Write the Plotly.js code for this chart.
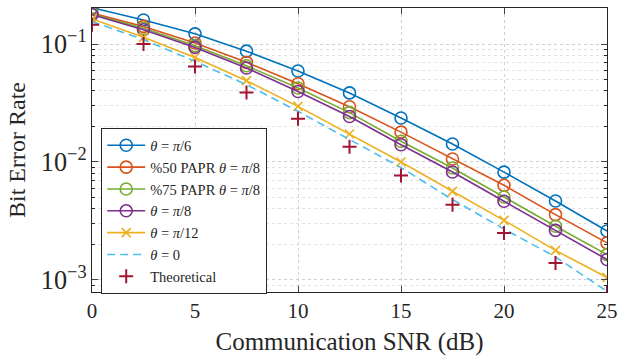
<!DOCTYPE html>
<html>
<head>
<meta charset="utf-8">
<script src="https://cdn.plot.ly/plotly-3.0.1.min.js"></script>
<style>html,body{margin:0;padding:0;background:#fff}</style>
</head>
<body>
<div id="chart" style="width:634px;height:360px"></div>
<script>
const snr = [0, 2.5, 5, 7.5, 10, 12.5, 15, 17.5, 20, 22.5, 25];
const berPi6 = [0.203, 0.16, 0.122, 0.087, 0.059, 0.0385, 0.0236, 0.0142, 0.0082, 0.00467, 0.0026];
const berPapr50 = [0.183, 0.141, 0.102, 0.0699, 0.0461, 0.0294, 0.0179, 0.0106, 0.00634, 0.00358, 0.00206];
const berPapr75 = [0.18, 0.136, 0.0968, 0.0654, 0.0424, 0.0262, 0.015, 0.00889, 0.00505, 0.00285, 0.00164];
const berPi8 = [0.177, 0.132, 0.0936, 0.0626, 0.0396, 0.0243, 0.014, 0.00822, 0.00464, 0.00263, 0.00149];
const berPi12 = [0.163, 0.114, 0.0769, 0.0489, 0.0296, 0.01726, 0.01, 0.00564, 0.0032, 0.00178, 0.00105];
const berZero = [0.155, 0.109, 0.0713, 0.0452, 0.0269, 0.01545, 0.00895, 0.0048, 0.0027, 0.00157, 0.0008];
const berTheory = [0.146, 0.1, 0.0646, 0.0389, 0.0233, 0.01345, 0.00769, 0.00434, 0.0025, 0.00139, 0.000776];

const names = [
  '<i>θ</i> = <i>π</i>/6',
  '%50 PAPR <i>θ</i> = <i>π</i>/8',
  '%75 PAPR <i>θ</i> = <i>π</i>/8',
  '<i>θ</i> = <i>π</i>/8',
  '<i>θ</i> = <i>π</i>/12',
  '<i>θ</i> = 0',
  'Theoretical'
];

function circ(y, name, color) {
  return {x: snr, y: y, name: name, type: 'scatter', mode: 'lines+markers',
    line: {color: color, width: 1.6},
    marker: {symbol: 'circle-open', size: 12, color: color, line: {width: 1.6, color: color}}};
}

const traces = [
  circ(berPi6, names[0], '#0072BD'),
  circ(berPapr50, names[1], '#D95319'),
  circ(berPapr75, names[2], '#77AC30'),
  circ(berPi8, names[3], '#7E2F8E'),
  {x: snr, y: berPi12, name: names[4], type: 'scatter', mode: 'lines+markers',
    line: {color: '#EDB120', width: 1.6},
    marker: {symbol: 'x-thin-open', size: 9, color: '#EDB120', line: {width: 1.6, color: '#EDB120'}}},
  {x: snr, y: berZero, name: names[5], type: 'scatter', mode: 'lines',
    line: {color: '#4DBEEE', width: 1.6, dash: '8px,5px'}},
  {x: snr, y: berTheory, name: names[6], type: 'scatter', mode: 'markers',
    marker: {symbol: 'cross-thin-open', size: 10, color: '#A2142F', line: {width: 2, color: '#A2142F'}}}
];

const font = "'Liberation Serif', serif";
const layout = {
  width: 634, height: 360,
  margin: {l: 92, r: 27, t: 8, b: 68},
  paper_bgcolor: '#fff', plot_bgcolor: '#fff',
  font: {family: font, color: '#262626', size: 18},
  showlegend: true,
  legend: {x: 0.0175, y: 0.577, xanchor: 'left', yanchor: 'top',
    bgcolor: '#fff', bordercolor: '#262626', borderwidth: 1.2, itemwidth: 38,
    font: {family: font, size: 14.5, color: '#262626'}, tracegroupgap: 0},
  xaxis: {range: [0, 25], tickvals: [0, 5, 10, 15, 20, 25], ticks: 'inside', ticklen: 6,
    showline: true, linecolor: '#262626', linewidth: 1.2, mirror: 'allticks',
    showgrid: true, gridcolor: '#d0d0d0', griddash: 'dot', gridwidth: 1, zeroline: false,
    tickfont: {family: font, size: 21, color: '#262626'},
    title: {text: 'Communication SNR (dB)', font: {family: font, size: 25, color: '#262626'}, standoff: 10}},
  yaxis: {type: 'log', range: [Math.log10(7.9e-4), Math.log10(0.202)], dtick: 1,
    exponentformat: 'power', ticks: 'inside', ticklen: 6,
    showline: true, linecolor: '#262626', linewidth: 1.2, mirror: 'allticks',
    showgrid: true, gridcolor: '#d0d0d0', griddash: 'dot', gridwidth: 1, zeroline: false,
    minor: {ticks: 'inside', ticklen: 3, showgrid: true, gridcolor: '#e2e2e2', griddash: 'dot', tickcolor: '#262626'},
    tickfont: {family: font, size: 21, color: '#262626'},
    title: {text: 'Bit Error Rate', font: {family: font, size: 24, color: '#262626'}, standoff: 8}}
};

Plotly.newPlot('chart', traces, layout, {staticPlot: true, displayModeBar: false});
</script>
</body>
</html>
